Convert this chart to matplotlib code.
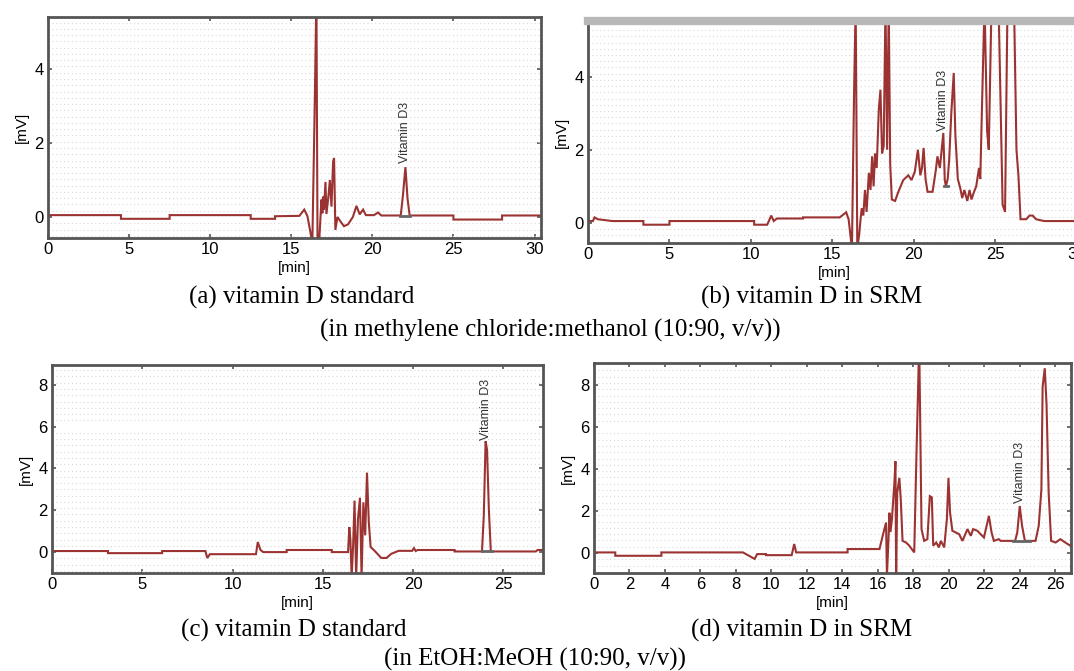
import numpy as np
import matplotlib.pyplot as plt
from matplotlib.ticker import MultipleLocator

# ---- data (time [min], signal [mV]) ----
t_a = [0, 4.5, 4.5, 7.5, 7.5, 12.5, 12.5, 14.0, 14.0, 15.5, 15.8, 16.0, 16.3, 16.45,
       16.55, 16.62, 16.72, 16.86, 16.92, 16.96, 17.02, 17.11, 17.17, 17.3, 17.38,
       17.48, 17.58, 17.64, 17.72, 17.85, 18.0, 18.25, 18.5, 18.8, 19.02, 19.22,
       19.43, 19.6, 20.1, 20.35, 20.55, 21.75, 21.89, 22.04, 22.17, 22.3, 25.0,
       25.0, 28.0, 28.0, 30.4]
v_a = [0.05, 0.05, -0.05, -0.05, 0.05, 0.05, -0.05, -0.05, 0.02, 0.03, 0.2, 0.02,
       -0.7, 3.1, 6.0, -0.7, -0.7, 0.47, 0.1, 0.55, 0.2, 0.95, 0.08, 0.6, 1.0,
       0.28, 1.5, 1.6, -0.35, 0.0, -0.1, -0.25, -0.2, 0.0, 0.3, 0.07, 0.2, 0.05,
       0.05, 0.12, 0.04, 0.04, 0.6, 1.35, 0.5, 0.04, 0.04, -0.07, -0.07, 0.04, 0.04]

t_b = [0, 0.3, 0.4, 0.6, 1.5, 3.4, 3.4, 5.0, 5.0, 10.2, 10.2, 11.0, 11.25, 11.4,
       11.6, 13.2, 13.2, 15.45, 15.85, 16.0, 16.2, 16.33, 16.43, 16.53, 16.65,
       16.73, 16.8, 16.9, 17.0, 17.1, 17.24, 17.34, 17.44, 17.53, 17.62, 17.72,
       17.85, 17.95, 18.05, 18.15, 18.26, 18.36, 18.46, 18.55, 18.65, 18.85, 19.05,
       19.35, 19.66, 19.86, 20.06, 20.25, 20.4, 20.5, 20.6, 20.72, 20.84, 21.15,
       21.35, 21.45, 21.6, 21.81, 21.9, 21.97, 22.08, 22.17, 22.3, 22.45, 22.55,
       22.7, 22.85, 22.97, 23.1, 23.28, 23.42, 23.54, 23.68, 23.83, 24.0, 24.08,
       24.18, 24.34, 24.5, 24.6, 24.77, 25.2, 25.45, 25.6, 25.75, 26.15, 26.3,
       26.42, 26.55, 26.9, 27.1, 27.3, 27.5, 28.0, 30.5]
v_b = [0.05, 0.05, 0.15, 0.1, 0.05, 0.05, -0.05, -0.05, 0.05, 0.05, -0.05, -0.05,
       0.2, 0.05, 0.12, 0.12, 0.15, 0.15, 0.29, 0.09, -0.7, 3.5, 6.0, -0.7, -0.3,
       0.1, 0.4, 0.2, 0.9, 0.3, 1.37, 0.9, 1.82, 1.0, 1.9, 1.5, 3.1, 3.64, 1.9,
       2.1, 6.0, 2.0, 6.0, 1.6, 0.64, 0.6, 0.85, 1.17, 1.3, 1.17, 1.4, 2.0, 1.3,
       1.5, 2.05, 1.2, 0.85, 0.85, 1.44, 1.82, 1.5, 2.46, 1.17, 1.0, 1.2, 1.73,
       3.0, 4.1, 2.4, 1.2, 0.95, 0.68, 0.9, 0.6, 0.9, 0.64, 0.83, 1.0, 1.5, 1.2,
       3.1, 6.0, 2.5, 2.0, 6.0, 6.0, 0.5, 0.3, 6.0, 6.0, 2.0, 1.3, 0.1, 0.1, 0.2,
       0.2, 0.1, 0.05, 0.05]

t_c = [0, 3.1, 3.1, 6.1, 6.1, 8.5, 8.6, 8.75, 11.3, 11.4, 11.55, 11.7, 13.0, 13.0,
       15.5, 15.5, 16.4, 16.47, 16.53, 16.6, 16.68, 16.76, 16.85, 16.95, 17.06,
       17.15, 17.25, 17.35, 17.45, 17.55, 17.65, 17.85, 18.24, 18.53, 18.8, 19.2,
       19.95, 20.05, 20.15, 20.25, 22.3, 22.3, 23.82, 23.92, 24.02, 24.1, 24.2,
       24.31, 26.8, 26.9, 27.2]
v_c = [0.05, 0.05, -0.05, -0.05, 0.05, 0.05, -0.28, -0.1, -0.1, 0.48, 0.1, 0.0,
       0.0, 0.1, 0.1, 0.0, 0.0, 1.2, 0.6, -1.2, 0.3, 2.46, -1.2, 1.58, 2.6, -1.2,
       2.38, 0.8, 3.8, 1.43, 0.24, 0.08, -0.28, -0.28, -0.08, 0.06, 0.06, 0.19,
       0.05, 0.1, 0.1, 0.03, 0.03, 1.74, 5.3, 4.9, 2.06, 0.03, 0.03, 0.1, 0.1]

t_d = [0, 1.2, 1.2, 3.8, 3.8, 8.4, 9.06, 9.2, 9.7, 9.7, 11.15, 11.29, 11.4, 14.3,
       14.3, 16.1, 16.28, 16.47, 16.52, 16.6, 16.66, 16.72, 16.8, 16.94, 17.0,
       17.04, 17.1, 17.22, 17.3, 17.4, 17.6, 17.78, 18.06, 18.19, 18.34, 18.47,
       18.62, 18.8, 18.94, 19.05, 19.13, 19.3, 19.45, 19.56, 19.75, 19.9, 19.99,
       20.08, 20.21, 20.4, 20.59, 20.78, 21.06, 21.25, 21.38, 21.62, 21.8, 21.99,
       22.27, 22.42, 22.55, 22.83, 22.93, 23.75, 23.87, 24.01, 24.14, 24.3, 24.9,
       25.08, 25.23, 25.3, 25.42, 25.52, 25.64, 25.78, 26.03, 26.3, 26.58, 26.86,
       27.0, 27.1]
v_d = [0.03, 0.03, -0.13, -0.13, 0.03, 0.03, -0.28, -0.05, -0.05, -0.1, -0.1, 0.43,
       0.03, 0.03, 0.19, 0.19, 0.82, 1.45, -1.1, 0.5, 1.92, 1.0, 1.6, 3.34, 4.37,
       -1.1, 2.87, 3.58, 2.55, 0.58, 0.5, 0.35, 0.03, 4.9, 10.0, 1.14, 0.58, 0.66,
       2.71, 2.65, 0.35, 0.5, 0.27, 0.58, 0.27, 1.61, 3.58, 1.92, 1.06, 0.98, 0.9,
       0.58, 1.14, 0.82, 1.14, 1.06, 0.9, 0.74, 1.77, 0.98, 0.58, 0.66, 0.58, 0.58,
       0.98, 2.24, 1.3, 0.58, 0.58, 1.3, 3.03, 7.92, 8.8, 7.1, 2.87, 0.58, 0.5,
       0.66, 0.5, 0.35, 0.58, 0.5]

# peak label position (time, signal at label start) and integration baseline
label_a = (22.04, 1.45)
label_b = (21.82, 2.5)
label_c = (24.02, 5.35)
label_d = (24.0, 2.4)
base_a = ([21.7, 22.35], [0.03, 0.03])
base_b = ([21.85, 22.1], [1.0, 1.0])
base_c = ([23.8, 24.35], [0.03, 0.03])
base_d = ([23.65, 24.6], [0.58, 0.58])

xticks_ab = [0, 5, 10, 15, 20, 25, 30]
xticks_c = [0, 5, 10, 15, 20, 25]
xticks_d = list(range(0, 27, 2))

line_col = '#9c3333'
spine_col = '#555555'
tick_font = ['Liberation Sans Narrow', 'Liberation Sans', 'DejaVu Sans']

fig = plt.figure(figsize=(10.74, 6.71), dpi=100)

W, H = 1074, 671
def box(l, t, r, b):
    return [l / W, 1 - b / H, (r - l) / W, (b - t) / H]

panels = [
    (box(48, 17, 541, 238), t_a, v_a, (0, 30.4), (-0.57, 5.42), [0, 2, 4], xticks_ab, label_a, base_a, 0.17),
    (box(588, 21, 1080, 243), t_b, v_b, (0, 30.2), (-0.55, 5.52), [0, 2, 4], xticks_ab, label_b, base_b, 0.17),
    (box(52, 365, 543, 573), t_c, v_c, (0, 27.2), (-1.0, 8.95), [0, 2, 4, 6, 8], xticks_c, label_c, base_c, 0.3),
    (box(594, 363, 1071, 573), t_d, v_d, (0, 26.9), (-0.95, 9.05), [0, 2, 4, 6, 8], xticks_d, label_d, base_d, 0.3),
]

axes = []
for pos, t, v, xl, yl, yt, xt, lab, base, gstep in panels:
    ax = fig.add_axes(pos)
    ax.plot(t, v, color=line_col, lw=1.5, solid_joinstyle='miter')
    ax.plot(base[0], base[1], color='#666666', lw=2)
    ax.text(lab[0], lab[1], 'Vitamin D3', rotation=90, ha='center', va='bottom',
            fontsize=9, color='#333333', family=tick_font)
    ax.set_xlim(*xl)
    ax.set_ylim(*yl)
    ax.set_xticks(xt)
    ax.set_yticks(yt)
    ax.yaxis.set_minor_locator(MultipleLocator(gstep))
    ax.grid(which='minor', axis='y', color='#d8d8d8', linestyle=(0, (1, 2.5)), lw=0.8)
    ax.tick_params(which='minor', length=0)
    ax.tick_params(which='major', direction='in', length=3, width=1.2, top=True,
                   right=True, pad=3, labelsize=12, color=spine_col)
    for lbl in ax.get_xticklabels() + ax.get_yticklabels():
        lbl.set_family(tick_font)
    for sp in ax.spines.values():
        sp.set_color(spine_col)
        sp.set_linewidth(2)
    ax.set_xlabel('[min]', fontsize=11, family=tick_font, labelpad=3)
    ax.set_ylabel('[mV]', fontsize=11, family=tick_font, labelpad=4)
    axes.append(ax)

# panel (b) has a thick light grey top border
axes[1].spines['top'].set_color('#b8b8b8')
axes[1].spines['top'].set_linewidth(6)

serif = ['Liberation Serif', 'DejaVu Serif']
fig.text(302 / W, 1 - 297 / H, '(a) vitamin D standard', ha='center', va='center', fontsize=18, family=serif)
fig.text(812 / W, 1 - 297 / H, '(b) vitamin D in SRM', ha='center', va='center', fontsize=18, family=serif)
fig.text(550 / W, 1 - 330 / H, '(in methylene chloride:methanol (10:90, v/v))', ha='center', va='center', fontsize=18, family=serif)
fig.text(294 / W, 1 - 630 / H, '(c) vitamin D standard', ha='center', va='center', fontsize=18, family=serif)
fig.text(802 / W, 1 - 630 / H, '(d) vitamin D in SRM', ha='center', va='center', fontsize=18, family=serif)
fig.text(535 / W, 1 - 659 / H, '(in EtOH:MeOH (10:90, v/v))', ha='center', va='center', fontsize=18, family=serif)

plt.savefig('out.png', dpi=100, facecolor='w')
